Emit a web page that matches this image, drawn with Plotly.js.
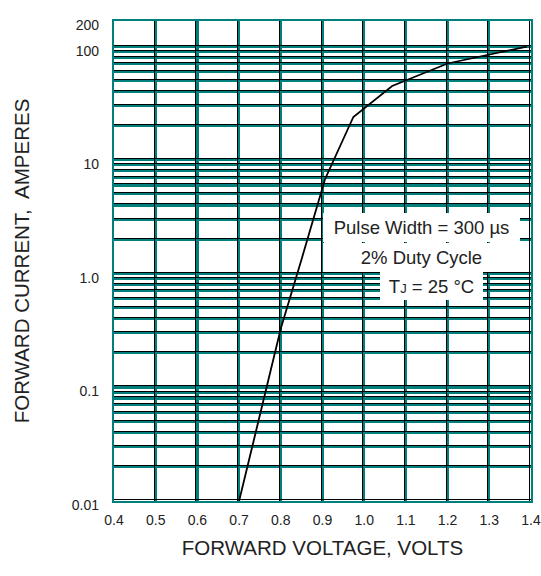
<!DOCTYPE html>
<html>
<head>
<meta charset="utf-8">
<script src="https://cdn.plot.ly/plotly-3.0.1.min.js"></script>
<style>html,body{margin:0;padding:0;background:#fff;}#chart{width:541px;height:576px;}</style>
</head>
<body>
<div id="chart"></div>
<script>
// Forward voltage (V) and forward current (A)
var forwardVoltage = [0.70, 0.75, 0.80, 0.85, 0.906, 0.974, 1.067, 1.20, 1.39];
var forwardCurrent = [0.01, 0.058, 0.33, 1.35, 6.8, 24, 45, 71, 100];

// X axis ticks
var xTickVals = [0.4, 0.5, 0.6, 0.7, 0.8, 0.9, 1.0, 1.1, 1.2, 1.3, 1.4];
var xTickText = ["0.4", "0.5", "0.6", "0.7", "0.8", "0.9", "1.0", "1.1", "1.2", "1.3", "1.4"];

// Y axis decade labels and the top label
var yDecades = [0.01, 0.1, 1, 10, 100];
var yDecadeText = ["0.01", "0.1", "1.0", "10", "100"];
var yTopValue = 168;
var yTopText = "200";

var yTickVals = [], yTickText = [];
yDecades.forEach(function (d, i) {
  var steps = (d === 100) ? [1] : [1, 2, 3, 4, 5, 6, 7, 8, 9];
  steps.forEach(function (m) {
    yTickVals.push(d * m);
    yTickText.push(m === 1 ? yDecadeText[i] : "");
  });
});
yTickVals.push(yTopValue);
yTickText.push(yTopText);

var teal = "#007f7c";
var fontFam = "Liberation Sans, Arial, Helvetica, sans-serif";
var yRange = [-2, Math.log10(yTopValue)];
var dy = 1.5 / 113.6;      // shift of the dark edge line (decades)
var dx = 1.5 / 417;        // shift of the dark edge line (volts)

var traces = [
  {
    x: forwardVoltage, y: forwardCurrent, type: "scatter", mode: "lines",
    line: {color: "#000", width: 1.8}, xaxis: "x", yaxis: "y",
    hoverinfo: "skip", showlegend: false
  },
  {
    x: forwardVoltage, y: forwardCurrent, type: "scatter", mode: "lines",
    line: {color: "rgba(0,0,0,0)", width: 0}, xaxis: "x2", yaxis: "y2",
    hoverinfo: "skip", showlegend: false
  }
];

var layout = {
  width: 541, height: 576,
  margin: {l: 114, r: 10, t: 21, b: 75},
  paper_bgcolor: "#fff", plot_bgcolor: "#fff",
  font: {family: fontFam, color: "#222"},
  showlegend: false,
  xaxis: {
    range: [0.4, 1.4], tickmode: "array", tickvals: xTickVals, ticktext: xTickText,
    showgrid: true, gridcolor: teal, gridwidth: 2.2,
    showline: true, linecolor: teal, linewidth: 2.2, mirror: true,
    ticks: "", zeroline: false, ticklabelstandoff: 5, ticklabeloverflow: "allow",
    tickfont: {size: 14, family: fontFam, color: "#222"},
    title: {text: "FORWARD VOLTAGE, VOLTS", font: {size: 20.5, family: fontFam, color: "#222"}, standoff: 14}
  },
  yaxis: {
    type: "log", range: yRange, tickmode: "array", tickvals: yTickVals, ticktext: yTickText,
    showgrid: true, gridcolor: teal, gridwidth: 2.2,
    showline: true, linecolor: teal, linewidth: 2.2, mirror: true,
    ticks: "", zeroline: false, ticklabelstandoff: 10, ticklabelshift: 4, ticklabeloverflow: "allow",
    tickfont: {size: 14, family: fontFam, color: "#222"},
    title: {text: "FORWARD CURRENT,  AMPERES", font: {size: 20.5, family: fontFam, color: "#222"}, standoff: 37}
  },
  xaxis2: {
    overlaying: "x", anchor: "y2", range: [0.4 + dx, 1.4 + dx],
    tickmode: "array", tickvals: xTickVals, showticklabels: false,
    showgrid: true, gridcolor: "#000", gridwidth: 1, showline: false, ticks: "", zeroline: false
  },
  yaxis2: {
    overlaying: "y", anchor: "x2", type: "log", range: [yRange[0] - dy, yRange[1] - dy],
    tickmode: "array", tickvals: yTickVals, showticklabels: false,
    showgrid: true, gridcolor: "#000", gridwidth: 1, showline: false, ticks: "", zeroline: false
  },
  annotations: [
    {xref: "paper", yref: "paper", x: 0.7374, y: 0.5693, xanchor: "center", yanchor: "middle",
     text: "Pulse Width = 300 µs", showarrow: false, bgcolor: "#fff", width: 197, height: 29,
     font: {size: 18.5, family: fontFam, color: "#222"}, borderpad: 0, borderwidth: 0},
    {xref: "paper", yref: "paper", x: 0.7374, y: 0.5078, xanchor: "center", yanchor: "middle",
     text: "2% Duty Cycle", showarrow: false, bgcolor: "#fff", width: 197, height: 29,
     font: {size: 18.5, family: fontFam, color: "#222"}, borderpad: 0, borderwidth: 0},
    {xref: "paper", yref: "paper", x: 0.7614, y: 0.4479, xanchor: "center", yanchor: "middle",
     text: "T<span style=\"font-size:13px\">J</span> = 25 °C", showarrow: false, bgcolor: "#fff", width: 103, height: 28,
     font: {size: 18.5, family: fontFam, color: "#222"}, borderpad: 0, borderwidth: 0}
  ]
};

Plotly.newPlot("chart", traces, layout, {staticPlot: true, displayModeBar: false});
</script>
</body>
</html>
